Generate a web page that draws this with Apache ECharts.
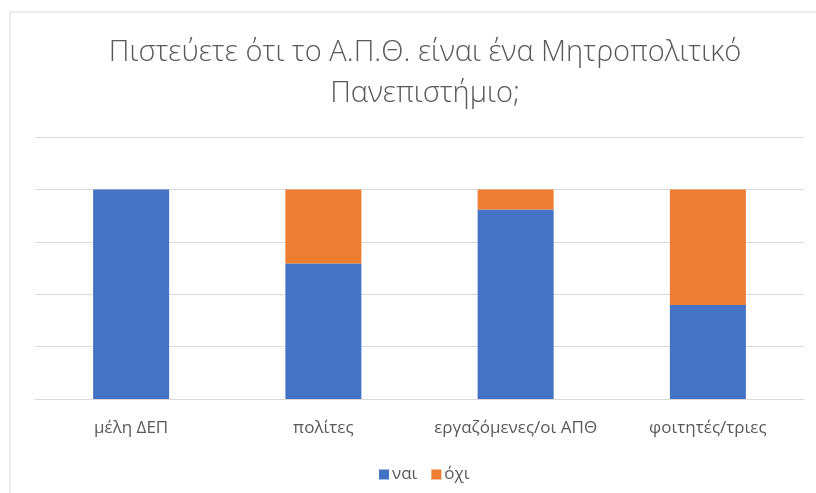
<!DOCTYPE html>
<html>
<head>
<meta charset="utf-8">
<script src="https://cdn.jsdelivr.net/npm/echarts@6/dist/echarts.min.js"></script>
<style>
  html, body { margin: 0; padding: 0; background: #fff; }
  #chart { width: 816px; height: 493px; }
</style>
</head>
<body>
<div id="chart"></div>
<script>
var categories = ['μέλη ΔΕΠ', 'πολίτες', 'εργαζόμενες/οι ΑΠΘ', 'φοιτητές/τριες'];
var naiValues = [1.0, 0.647, 0.904, 0.448];
var oxiValues = [0.0, 0.353, 0.096, 0.552];

var chart = echarts.init(document.getElementById('chart'));
var fontFam = '"Open Sans", "Noto Sans", sans-serif';

chart.setOption({
  animation: false,
  textStyle: { fontFamily: fontFam },
  title: {
    text: 'Πιστεύετε ότι το Α.Π.Θ. είναι ένα Μητροπολιτικό\nΠανεπιστήμιο;',
    left: 420,
    textAlign: 'center',
    top: 27,
    textStyle: {
      fontFamily: fontFam,
      fontSize: 29,
      fontWeight: 300,
      color: '#595959',
      lineHeight: 41
    }
  },
  legend: {
    left: 374,
    top: 461,
    icon: 'rect',
    itemWidth: 10,
    itemHeight: 10,
    itemGap: 14,
    textStyle: { fontFamily: fontFam, fontSize: 17, color: '#595959', padding: [0, 0, 0, -2] },
    data: ['ναι', 'όχι']
  },
  grid: { left: 35, right: 12, top: 137, bottom: 94, containLabel: false },
  xAxis: {
    type: 'category',
    data: categories,
    axisLine: { lineStyle: { color: '#D9D9D9', width: 1 } },
    axisTick: { show: false },
    axisLabel: { interval: 0, color: '#595959', fontSize: 17, margin: 21, fontFamily: fontFam }
  },
  yAxis: {
    type: 'value',
    min: 0,
    max: 1.25,
    interval: 0.25,
    axisLabel: { show: false },
    axisLine: { show: false },
    axisTick: { show: false },
    splitLine: { lineStyle: { color: '#D9D9D9', width: 1 } }
  },
  graphic: [{
    type: 'rect',
    shape: { x: 10, y: 12, width: 1000, height: 700 },
    style: { fill: 'none', stroke: '#D9D9D9', lineWidth: 1 },
    silent: true
  }],
  series: [{
    name: 'ναι',
    type: 'bar',
    stack: 'total',
    barWidth: 76,
    itemStyle: { color: '#4472C4' },
    data: naiValues
  }, {
    name: 'όχι',
    type: 'bar',
    stack: 'total',
    barWidth: 76,
    itemStyle: { color: '#ED7D31' },
    data: oxiValues
  }]
});
</script>
</body>
</html>
